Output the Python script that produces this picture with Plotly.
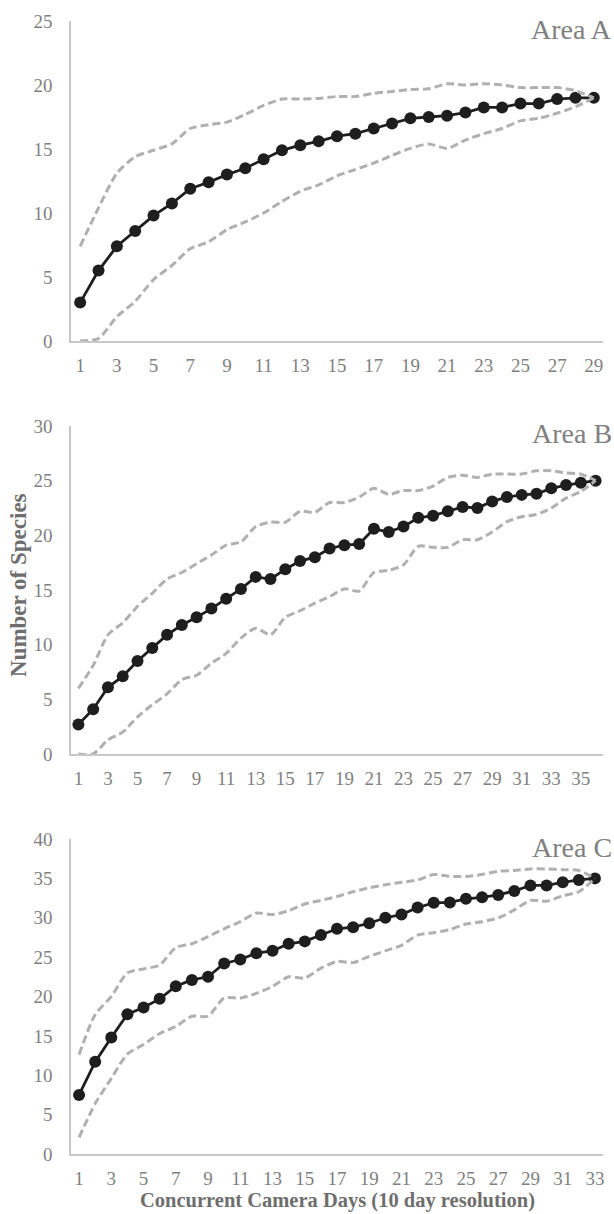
import plotly.graph_objects as go

# ---------------- data ----------------
area_names = ["Area A", "Area B", "Area C"]

a_mean = [3.0, 5.5, 7.4, 8.6, 9.8, 10.75, 11.9, 12.4, 13.0, 13.5, 14.2, 14.9, 15.3, 15.6, 16.0,
          16.2, 16.6, 17.0, 17.4, 17.5, 17.6, 17.85, 18.25, 18.25, 18.55, 18.55, 18.9, 19.0, 19.0]
a_upper = [7.4, 10.4, 13.1, 14.4, 14.9, 15.4, 16.6, 16.9, 17.1, 17.7, 18.4, 18.9, 18.9, 18.95, 19.1,
           19.1, 19.35, 19.5, 19.65, 19.7, 20.1, 20.0, 20.1, 20.0, 19.8, 19.8, 19.8, 19.55, 19.0]
a_lower = [0.0, 0.2, 1.9, 3.1, 4.8, 5.9, 7.2, 7.75, 8.7, 9.3, 10.0, 10.9, 11.7, 12.2, 12.9,
           13.4, 13.9, 14.5, 15.05, 15.4, 15.05, 15.7, 16.2, 16.6, 17.2, 17.4, 17.8, 18.3, 19.0]

b_mean = [2.7, 4.1, 6.1, 7.1, 8.5, 9.7, 10.9, 11.8, 12.5, 13.3, 14.2, 15.1, 16.2, 16.0, 16.9, 17.65,
          18.0, 18.8, 19.1, 19.2, 20.6, 20.3, 20.8, 21.6, 21.8, 22.2, 22.6, 22.5, 23.1, 23.5,
          23.7, 23.8, 24.3, 24.6, 24.8, 25.0]
b_upper = [6.0, 8.1, 10.9, 12.0, 13.5, 14.7, 16.0, 16.6, 17.4, 18.2, 19.1, 19.4, 20.8, 21.2, 21.2, 22.2,
           22.1, 23.0, 23.0, 23.5, 24.3, 23.75, 24.1, 24.1, 24.5, 25.3, 25.5, 25.3, 25.6, 25.6,
           25.6, 25.9, 25.9, 25.7, 25.6, 25.0]
b_lower = [0.0, 0.0, 1.3, 2.0, 3.4, 4.5, 5.5, 6.8, 7.2, 8.3, 9.2, 10.6, 11.5, 10.9, 12.5, 13.1,
           13.8, 14.4, 15.1, 14.9, 16.6, 16.8, 17.3, 19.0, 18.9, 18.9, 19.6, 19.6, 20.3, 21.25,
           21.7, 21.9, 22.5, 23.4, 24.0, 25.0]

c_mean = [7.5, 11.7, 14.8, 17.75, 18.6, 19.7, 21.3, 22.1, 22.5, 24.2, 24.7, 25.5, 25.8, 26.7, 27.0,
          27.8, 28.6, 28.8, 29.3, 30.0, 30.4, 31.3, 31.9, 31.95, 32.4, 32.6, 32.9, 33.4, 34.1,
          34.1, 34.5, 34.8, 35.0]
c_upper = [12.6, 17.7, 20.0, 23.0, 23.5, 24.0, 26.2, 26.7, 27.6, 28.6, 29.5, 30.6, 30.4, 30.9, 31.75,
           32.2, 32.7, 33.3, 33.8, 34.2, 34.5, 34.8, 35.5, 35.25, 35.25, 35.5, 35.9, 36.0, 36.2,
           36.2, 36.1, 36.0, 35.0]
c_lower = [2.1, 6.4, 9.6, 12.7, 13.9, 15.3, 16.2, 17.5, 17.5, 19.8, 19.8, 20.4, 21.3, 22.5, 22.35,
           23.6, 24.45, 24.3, 25.1, 25.8, 26.5, 27.8, 28.1, 28.5, 29.2, 29.5, 29.96, 31.0, 32.2,
           32.1, 32.8, 33.3, 35.0]

y_max = [25, 30, 40]
y_title = "Number of Species"
x_title = "Concurrent Camera Days (10 day resolution)"

series = [(a_mean, a_upper, a_lower), (b_mean, b_upper, b_lower), (c_mean, c_upper, c_lower)]

# ---------------- style ----------------
W, H = 614, 1214
ML, MR, MT, MB = 71, 11, 21, 60
plot_h = H - MT - MB
def py(pix):
    return (H - MB - pix) / plot_h

domains = [(py(341), 1.0), (py(754), py(426)), (0.0, py(839))]
label_y = [py(29), py(433), py(847)]

FONT = "Liberation Serif, Times New Roman, serif"
TICK_C = "#7f7f7f"
AXIS_C = "#c8c8c8"
MAIN_C = "#1e1e1e"
DASH_C = "#b0b0b0"

fig = go.Figure()
layout = dict(
    width=W, height=H,
    margin=dict(l=ML, r=MR, t=MT, b=MB),
    paper_bgcolor="white", plot_bgcolor="white",
    showlegend=False,
    font=dict(family=FONT, color=TICK_C, size=19),
)

annotations = []
for i, (m, u, lo) in enumerate(series):
    n = len(m)
    x = list(range(1, n + 1))
    xa = "x" if i == 0 else f"x{i+1}"
    ya = "y" if i == 0 else f"y{i+1}"
    fig.add_trace(go.Scatter(x=x, y=m, mode="lines+markers", xaxis=xa, yaxis=ya,
                             line=dict(color=MAIN_C, width=2.8),
                             marker=dict(color=MAIN_C, size=12)))
    for d in (u, lo):
        fig.add_trace(go.Scatter(x=x, y=d, mode="lines", xaxis=xa, yaxis=ya,
                                 line=dict(color=DASH_C, width=3, dash="8px,4px",
                                           shape="spline", smoothing=0.7)))
    xkey = "xaxis" if i == 0 else f"xaxis{i+1}"
    ykey = "yaxis" if i == 0 else f"yaxis{i+1}"
    layout[xkey] = dict(domain=[0, 1], anchor=ya, range=[0.5, n + 0.5],
                        tickmode="array", tickvals=list(range(1, n + 1, 2)),
                        showgrid=False, zeroline=False, showline=True,
                        linecolor=AXIS_C, linewidth=1.5, ticks="",
                        ticklabelstandoff=6,
                        tickfont=dict(family=FONT, size=19, color=TICK_C))
    layout[ykey] = dict(domain=list(domains[i]), anchor=xa, range=[0, y_max[i]],
                        dtick=5, tick0=0, showgrid=False, zeroline=False,
                        showline=True, linecolor=AXIS_C, linewidth=1.5, ticks="",
                        ticklabelstandoff=13,
                        tickfont=dict(family=FONT, size=19, color=TICK_C))
    annotations.append(dict(text=area_names[i], xref="paper", yref="paper",
                            x=(614 - ML) / (W - ML - MR), y=label_y[i],
                            xanchor="right", yanchor="middle", showarrow=False,
                            font=dict(family=FONT, size=28, color="#808080")))

annotations.append(dict(text="<b>" + y_title + "</b>", xref="paper", yref="paper",
                        x=(18 - ML) / (W - ML - MR), y=py(585), textangle=-90,
                        xanchor="center", yanchor="middle", showarrow=False,
                        font=dict(family=FONT, size=23, color="#6e6e6e")))
annotations.append(dict(text="<b>" + x_title + "</b>", xref="paper", yref="paper",
                        x=0.5, y=py(1200), xanchor="center", yanchor="middle",
                        showarrow=False,
                        font=dict(family=FONT, size=20.5, color="#6e6e6e")))
layout["annotations"] = annotations

fig.update_layout(**layout)
fig.write_html("out.html")
